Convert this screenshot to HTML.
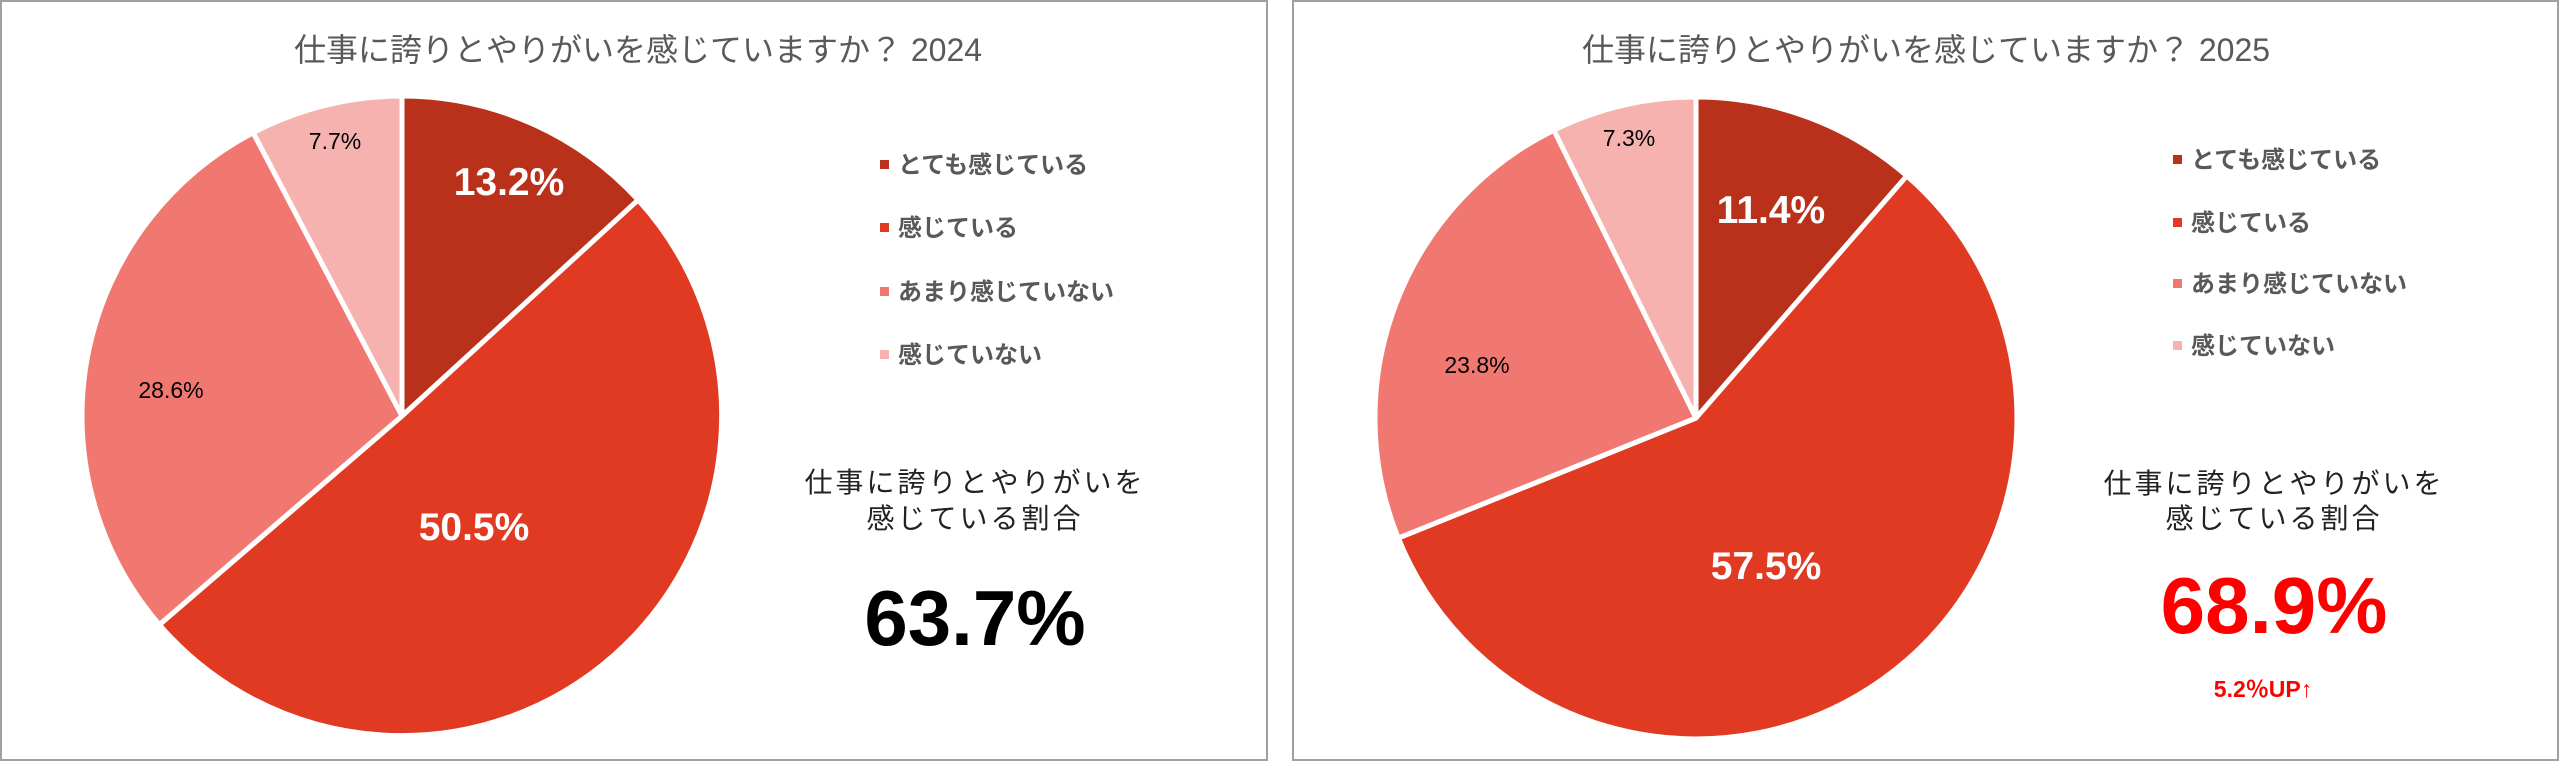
<!DOCTYPE html>
<html><head><meta charset="utf-8"><style>
html,body{margin:0;padding:0;background:#fff;}
svg{display:block;}
text{font-family:"Liberation Sans","Noto Sans CJK JP",sans-serif;}
</style></head><body>
<svg width="2560" height="762" viewBox="0 0 2560 762" xmlns="http://www.w3.org/2000/svg">
<rect x="1" y="1" width="1266" height="759" fill="#fff" stroke="#a0a0a0" stroke-width="2"/>
<rect x="1293" y="1" width="1265" height="759" fill="#fff" stroke="#a0a0a0" stroke-width="2"/>

<!-- Left pie -->
<g stroke="#fff" stroke-width="5" stroke-linejoin="round">
<path d="M402,416 L402,96 A320,320 0 0 1 638.1,200 Z" fill="#B9301B"/>
<path d="M402,416 L638.1,200 A320,320 0 1 1 159.4,624.7 Z" fill="#E03A22"/>
<path d="M402,416 L159.4,624.7 A320,320 0 0 1 253.2,132.7 Z" fill="#F07870"/>
<path d="M402,416 L253.2,132.7 A320,320 0 0 1 402,96 Z" fill="#F6B2AF"/>
</g>
<text x="638" y="61" text-anchor="middle" font-size="32" fill="#595959">仕事に誇りとやりがいを感じていますか？ 2024</text>
<g font-weight="bold" fill="#fff" font-size="39" text-anchor="middle">
<text x="509" y="195">13.2%</text>
<text x="474" y="540">50.5%</text>
</g>
<g fill="#000" font-size="23" text-anchor="middle">
<text x="171" y="398">28.6%</text>
<text x="335" y="149">7.7%</text>
</g>
<g font-size="24" font-weight="bold" fill="#595959">
<rect x="880" y="160" width="9" height="9" fill="#B9301B"/><text x="898" y="173">とても感じている</text>
<rect x="880" y="223" width="9" height="9" fill="#E03A22"/><text x="898" y="236">感じている</text>
<rect x="880" y="287" width="9" height="9" fill="#F07870"/><text x="898" y="300">あまり感じていない</text>
<rect x="880" y="350" width="9" height="9" fill="#F6B2AF"/><text x="898" y="363">感じていない</text>
</g>
<g font-size="28" fill="#222" text-anchor="middle" letter-spacing="3">
<text x="975" y="492">仕事に誇りとやりがいを</text>
<text x="975" y="528">感じている割合</text>
</g>
<text x="975" y="645" text-anchor="middle" font-size="78" font-weight="bold" fill="#000">63.7%</text>

<!-- Right pie -->
<g stroke="#fff" stroke-width="5" stroke-linejoin="round">
<path d="M1696,418 L1696,97 A321,321 0 0 1 1906.8,175.9 Z" fill="#B9301B"/>
<path d="M1696,418 L1906.8,175.9 A321,321 0 1 1 1398.3,538.1 Z" fill="#E03A22"/>
<path d="M1696,418 L1398.3,538.1 A321,321 0 0 1 1553.9,130.2 Z" fill="#F07870"/>
<path d="M1696,418 L1553.9,130.2 A321,321 0 0 1 1696,97 Z" fill="#F6B2AF"/>
</g>
<text x="1926" y="61" text-anchor="middle" font-size="32" fill="#595959">仕事に誇りとやりがいを感じていますか？ 2025</text>
<g font-weight="bold" fill="#fff" font-size="39" text-anchor="middle">
<text x="1771" y="223">11.4%</text>
<text x="1766" y="579">57.5%</text>
</g>
<g fill="#000" font-size="23" text-anchor="middle">
<text x="1477" y="373">23.8%</text>
<text x="1629" y="146">7.3%</text>
</g>
<g font-size="24" font-weight="bold" fill="#595959">
<rect x="2173" y="155" width="9" height="9" fill="#B9301B"/><text x="2191" y="168">とても感じている</text>
<rect x="2173" y="218" width="9" height="9" fill="#E03A22"/><text x="2191" y="231">感じている</text>
<rect x="2173" y="279" width="9" height="9" fill="#F07870"/><text x="2191" y="292">あまり感じていない</text>
<rect x="2173" y="341" width="9" height="9" fill="#F6B2AF"/><text x="2191" y="354">感じていない</text>
</g>
<g font-size="28" fill="#222" text-anchor="middle" letter-spacing="3">
<text x="2274" y="493">仕事に誇りとやりがいを</text>
<text x="2274" y="528">感じている割合</text>
</g>
<text x="2274" y="633" text-anchor="middle" font-size="80" font-weight="bold" fill="#ff0000">68.9%</text>
<text x="2263" y="697" text-anchor="middle" font-size="23" font-weight="bold" fill="#ff0000">5.2％UP↑</text>
</svg>
</body></html>
